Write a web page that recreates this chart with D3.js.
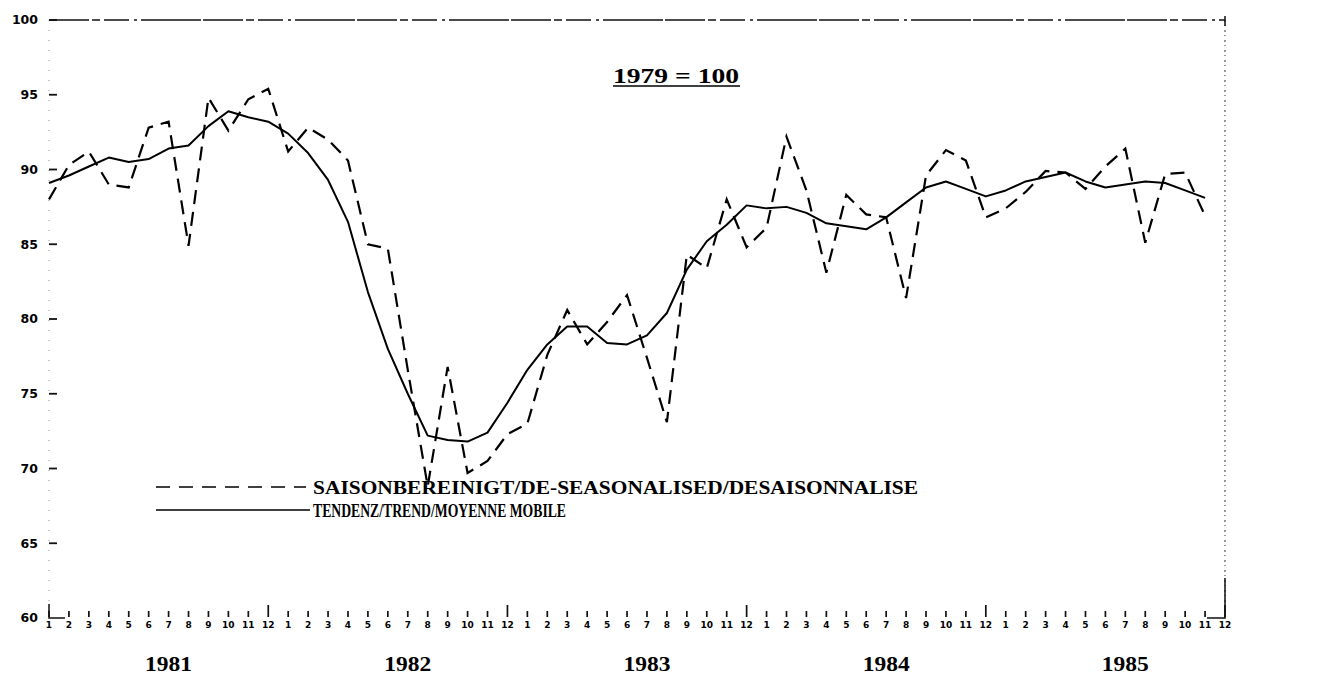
<!DOCTYPE html>
<html>
<head>
<meta charset="utf-8">
<script src="https://cdn.jsdelivr.net/npm/d3@7"></script>
<style>
  body { margin: 0; background: #fff; }
</style>
</head>
<body>
<div id="chart"></div>
<script>
// data, 1981-01 .. 1985-11
var years = [1981, 1982, 1983, 1984, 1985];
var monthLabels = [1, 2, 3, 4, 5, 6, 7, 8, 9, 10, 11, 12];
var yTicks = [60, 65, 70, 75, 80, 85, 90, 95, 100];

var seasonal = [
    88.0, 90.3, 91.2, 89.0, 88.8, 92.8, 93.2, 84.9, 94.8, 92.6, 94.7, 95.4,
    91.2, 92.8, 92.0, 90.6, 85.0, 84.7, 76.6, 68.8, 76.8, 69.7, 70.5, 72.3,
    73.0, 77.6, 80.6, 78.3, 79.8, 81.6, 77.4, 73.1, 84.3, 83.4, 88.0, 84.8,
    86.1, 92.2, 88.6, 83.1, 88.3, 87.0, 86.8, 81.4, 89.6, 91.3, 90.6, 86.8,
    87.4, 88.5, 89.9, 89.8, 88.7, 90.2, 91.4, 85.1, 89.7, 89.8, 86.9
];

var trend = [
    89.1, 89.6, 90.2, 90.8, 90.5, 90.7, 91.4, 91.6, 92.9, 93.9, 93.5, 93.2,
    92.4, 91.1, 89.3, 86.5, 81.8, 78.0, 75.0, 72.2, 71.9, 71.8, 72.4, 74.4,
    76.6, 78.3, 79.5, 79.5, 78.4, 78.3, 78.9, 80.4, 83.3, 85.2, 86.3, 87.6,
    87.4, 87.5, 87.1, 86.4, 86.2, 86.0, 86.8, 87.8, 88.8, 89.2, 88.7, 88.2,
    88.6, 89.2, 89.5, 89.8, 89.2, 88.8, 89.0, 89.2, 89.1, 88.6, 88.1
];

var legendLabels = [
    "SAISONBEREINIGT/DE-SEASONALISED/DESAISONNALISE",
    "TENDENZ/TREND/MOYENNE MOBILE"
];

// set parameters
var svgWidth = 1344;
var svgHeight = 684;

var svg = d3.select("#chart")
    .append("svg")
    .attr("width", svgWidth)
    .attr("height", svgHeight)
    .style("font-family", "'DejaVu Sans', sans-serif");

var plotLeft = 49, plotRight = 1225, plotTop = 20, plotBottom = 618;

var xScale = d3.scaleLinear()
    .domain([0, years.length * 12 - 1])
    .range([plotLeft, plotRight]);

var yScale = d3.scaleLinear()
    .domain([60, 100])
    .range([plotBottom, plotTop]);

// frame (scanned look)
svg.append("line")
    .attr("x1", plotLeft).attr("x2", plotRight)
    .attr("y1", plotTop).attr("y2", plotTop)
    .attr("stroke", "#111").attr("stroke-width", 1.4)
    .attr("stroke-dasharray", "40,3,8,4,25,5,3,4,60,2");

svg.append("line")
    .attr("x1", plotRight).attr("x2", plotRight)
    .attr("y1", plotTop).attr("y2", plotBottom)
    .attr("stroke", "#333").attr("stroke-width", 1)
    .attr("stroke-dasharray", "2,3,1,4");

svg.append("line")
    .attr("x1", plotLeft).attr("x2", plotLeft)
    .attr("y1", plotTop).attr("y2", plotBottom)
    .attr("stroke", "#777").attr("stroke-width", 0.8)
    .attr("stroke-dasharray", "1,9");

// corners
svg.append("path")
    .attr("d", `M${plotLeft},${plotBottom - 14}V${plotBottom}H${plotLeft + 16}`)
    .attr("fill", "none").attr("stroke", "#111").attr("stroke-width", 1.5);
svg.append("path")
    .attr("d", `M${plotRight - 18},${plotBottom}H${plotRight}V${plotBottom - 40}`)
    .attr("fill", "none").attr("stroke", "#111").attr("stroke-width", 1.5);
svg.append("line")
    .attr("x1", plotRight).attr("x2", plotRight)
    .attr("y1", plotTop - 4).attr("y2", plotTop + 6)
    .attr("stroke", "#111").attr("stroke-width", 1.5);

// y axis ticks + labels
var yAxis = svg.append("g");
yTicks.forEach(function(t) {
    if (t > 60) {
        yAxis.append("line")
            .attr("x1", plotLeft).attr("x2", plotLeft + 8)
            .attr("y1", yScale(t)).attr("y2", yScale(t))
            .attr("stroke", "#111").attr("stroke-width", 1.8);
    }
    yAxis.append("text")
        .attr("x", 38)
        .attr("y", yScale(t))
        .attr("dy", "0.35em")
        .attr("text-anchor", "end")
        .attr("font-size", 12.5)
        .attr("font-weight", "bold")
        .text(t);
});

// x axis: month ticks
var xAxis = svg.append("g");
years.forEach(function(yr, yi) {
    monthLabels.forEach(function(m, mi) {
        var i = yi * 12 + mi;
        var x = xScale(i);
        xAxis.append("line")
            .attr("x1", x).attr("x2", x)
            .attr("y1", m === 12 ? plotBottom - 13 : plotBottom - 7)
            .attr("y2", plotBottom - 1)
            .attr("stroke", "#111").attr("stroke-width", 1.7);
        xAxis.append("text")
            .attr("x", x)
            .attr("y", plotBottom + 7)
            .attr("dy", "0.35em")
            .attr("text-anchor", "middle")
            .attr("font-size", 9)
            .attr("font-weight", "bold")
            .text(m);
    });
    xAxis.append("text")
        .attr("x", xScale(yi * 12 + 6))
        .attr("y", 671)
        .attr("text-anchor", "middle")
        .attr("font-family", "'Liberation Serif', serif")
        .attr("font-size", 21)
        .attr("font-weight", "bold")
        .attr("textLength", 47)
        .attr("lengthAdjust", "spacingAndGlyphs")
        .text(yr);
});

// lines
var line = d3.line()
    .x((d, i) => xScale(i))
    .y(d => yScale(d));

svg.append("path")
    .datum(trend)
    .attr("d", line)
    .attr("fill", "none")
    .attr("stroke", "#000")
    .attr("stroke-width", 2)
    .attr("stroke-linejoin", "round");

svg.append("path")
    .datum(seasonal)
    .attr("d", line)
    .attr("fill", "none")
    .attr("stroke", "#000")
    .attr("stroke-width", 2.2)
    .attr("stroke-dasharray", "14,8");

// title
svg.append("text")
    .attr("x", 676)
    .attr("y", 83)
    .attr("text-anchor", "middle")
    .attr("font-family", "'Liberation Serif', serif")
    .attr("font-size", 20)
    .attr("font-weight", "bold")
    .attr("textLength", 126)
    .attr("lengthAdjust", "spacingAndGlyphs")
    .text("1979 = 100");
svg.append("line")
    .attr("x1", 613).attr("x2", 740)
    .attr("y1", 86).attr("y2", 86)
    .attr("stroke", "#000").attr("stroke-width", 1.5);

// legend
var legend = svg.append("g");
legend.append("line")
    .attr("x1", 156).attr("x2", 306)
    .attr("y1", 487).attr("y2", 487)
    .attr("stroke", "#000").attr("stroke-width", 1.6)
    .attr("stroke-dasharray", "14,9");
legend.append("line")
    .attr("x1", 156).attr("x2", 310)
    .attr("y1", 510).attr("y2", 510)
    .attr("stroke", "#000").attr("stroke-width", 1.6);

var legendWidths = [605, 253];
legendLabels.forEach(function(lbl, i) {
    legend.append("text")
        .attr("x", 313)
        .attr("y", 494 + i * 23)
        .attr("font-family", "'Liberation Serif', serif")
        .attr("font-size", 19)
        .attr("font-weight", "bold")
        .attr("textLength", legendWidths[i])
        .attr("lengthAdjust", "spacingAndGlyphs")
        .text(lbl);
});
</script>
</body>
</html>
